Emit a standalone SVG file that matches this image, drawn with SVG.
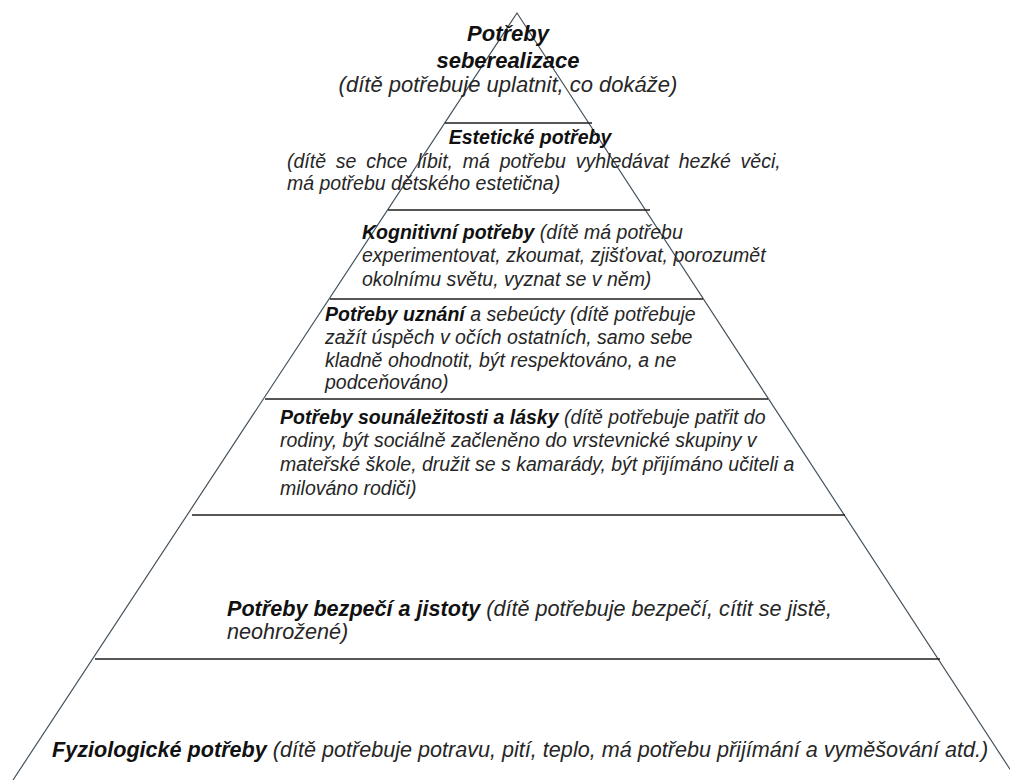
<svg xmlns="http://www.w3.org/2000/svg" width="1010" height="780" viewBox="0 0 1010 780">
<style>
  .side{fill:none;stroke:#46535d;stroke-width:1.2}
  .sep{stroke:#1e1e1e;stroke-width:1.6}
  text{font-family:"Liberation Sans",Arial,sans-serif;font-style:italic;fill:#262626}
  .b{font-weight:bold;fill:#111}
  .t{font-size:22px}
  .m{font-size:19.5px}
  .l{font-size:21.6px}
</style>
<rect width="1010" height="780" fill="#ffffff"/>
<g id="pyramid">
  <polyline class="side" points="13,780 517,13 1017,780"/>
  <line class="sep" x1="445" y1="123" x2="592" y2="123"/>
  <line class="sep" x1="388" y1="210" x2="650" y2="210"/>
  <line class="sep" x1="330" y1="299" x2="703" y2="299"/>
  <line class="sep" x1="265" y1="399" x2="768" y2="399"/>
  <line class="sep" x1="192" y1="515" x2="845" y2="515"/>
  <line class="sep" x1="95" y1="659" x2="940" y2="659"/>
</g>
<g id="level-seberealizace">
  <text class="t b" x="508" y="41" text-anchor="middle">Potřeby</text>
  <text class="t b" x="508" y="68" text-anchor="middle">seberealizace</text>
  <text class="t" x="508" y="92" text-anchor="middle">(dítě potřebuje uplatnit, co dokáže)</text>
</g>
<g id="level-esteticke">
  <text class="m b" x="530" y="144" text-anchor="middle">Estetické potřeby</text>
  <text class="m" x="287" y="168" word-spacing="4.4">(dítě se chce líbit, má potřebu vyhledávat hezké věci,</text>
  <text class="m" x="287" y="190">má potřebu dětského estetična)</text>
</g>
<g id="level-kognitivni">
  <text class="m" x="362" y="239"><tspan class="b">Kognitivní potřeby</tspan> (dítě má potřebu</text>
  <text class="m" x="362" y="262">experimentovat, zkoumat, zjišťovat, porozumět</text>
  <text class="m" x="362" y="286">okolnímu světu, vyznat se v něm)</text>
</g>
<g id="level-uznani">
  <text class="m" x="325" y="321"><tspan class="b">Potřeby uznání</tspan> a sebeúcty (dítě potřebuje</text>
  <text class="m" x="325" y="344">zažít úspěch v očích ostatních, samo sebe</text>
  <text class="m" x="325" y="367">kladně ohodnotit, být respektováno, a ne</text>
  <text class="m" x="325" y="389">podceňováno)</text>
</g>
<g id="level-sounalezitost">
  <text class="m" x="280" y="424"><tspan class="b">Potřeby sounáležitosti a lásky</tspan> (dítě potřebuje patřit do</text>
  <text class="m" x="280" y="447">rodiny, být sociálně začleněno do vrstevnické skupiny v</text>
  <text class="m" x="280" y="471">mateřské škole, družit se s kamarády, být přijímáno učiteli a</text>
  <text class="m" x="280" y="495">milováno rodiči)</text>
</g>
<g id="level-bezpeci">
  <text class="l" x="227" y="616"><tspan class="b">Potřeby bezpečí a jistoty</tspan> (dítě potřebuje bezpečí, cítit se jistě,</text>
  <text class="l" x="227" y="639">neohrožené)</text>
</g>
<g id="level-fyziologicke">
  <text class="l" x="52" y="757"><tspan class="b">Fyziologické potřeby</tspan> (dítě potřebuje potravu, pití, teplo, má potřebu přijímání a vyměšování atd.)</text>
</g>
</svg>
